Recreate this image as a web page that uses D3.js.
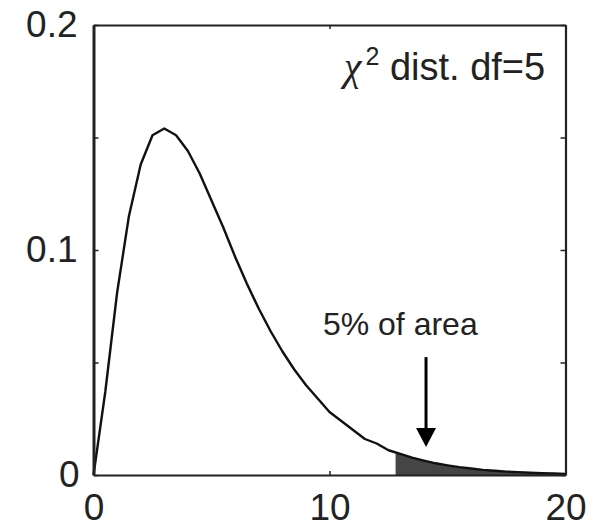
<html>
<head>
<meta charset="utf-8">
<script src="https://d3js.org/d3.v7.min.js"></script>
<style>
  body { margin: 0; background: #fff; }
  text { font-family: "Liberation Sans", Arial, sans-serif; fill: #222; }
</style>
</head>
<body>
<script>
// chi-square df=5 density, every 0.5
var xs = [0, 0.5, 1, 1.5, 2, 2.5, 3, 3.5, 4, 4.5, 5, 5.5, 6, 6.5, 7, 7.5, 8, 8.5, 9, 9.5, 10,
          10.5, 11, 11.5, 12, 12.5, 13, 13.5, 14, 14.5, 15, 15.5, 16, 16.5, 17, 17.5, 18, 18.5, 19, 19.5, 20];
var ys = [0, 0.037, 0.081, 0.115, 0.138, 0.151, 0.154, 0.151, 0.144, 0.134, 0.122, 0.110, 0.097, 0.085,
          0.074, 0.064, 0.055, 0.047, 0.040, 0.034, 0.028, 0.024, 0.020, 0.016, 0.014, 0.011, 0.0094,
          0.0077, 0.0064, 0.0052, 0.0043, 0.0035, 0.0029, 0.0023, 0.0019, 0.0015, 0.0013, 0.0010,
          0.0008, 0.0007, 0.0005];
var shadeFrom = [12.8, 0.0099];   // left edge of shaded tail
var xTicks = [0, 10, 20];
var yTicks = [0, 0.05, 0.1, 0.15, 0.2];
var yLabels = ["0", "", "0.1", "", "0.2"];
var titleText = ["\u03c7", "2", " dist. df=5"];
var noteText = "5% of area";
var arrow = {x: 14.09, from: 0.0524, to: 0.0124};

var W = 598, H = 528;
var svg = d3.select("body").append("svg").attr("width", W).attr("height", H);

var x = d3.scaleLinear().domain([0, 20]).range([93.5, 565.5]);
var y = d3.scaleLinear().domain([0, 0.2]).range([475, 25]);

var pts = xs.map(function(d, i) { return [d, ys[i]]; });

// shaded tail
var tail = [shadeFrom].concat(pts.filter(function(p) { return p[0] > shadeFrom[0]; }));
svg.append("path")
  .datum(tail)
  .attr("fill", "#454545")
  .attr("d", d3.area().x(function(p) { return x(p[0]); }).y0(y(0)).y1(function(p) { return y(p[1]); }));

// curve
svg.append("path")
  .datum(pts)
  .attr("fill", "none")
  .attr("stroke", "#111")
  .attr("stroke-width", 2.4)
  .attr("stroke-linejoin", "round")
  .attr("d", d3.line().x(function(p) { return x(p[0]); }).y(function(p) { return y(p[1]); }));

// axes
var fs = 37;
var gl = svg.append("g").attr("transform", "translate(" + x(0) + ",0)")
  .call(d3.axisLeft(y).tickValues(yTicks).tickSizeInner(-5).tickSizeOuter(0).tickPadding(16)
    .tickFormat(function(d, i) { return yLabels[i]; }));
var gr = svg.append("g").attr("transform", "translate(" + x(20) + ",0)")
  .call(d3.axisRight(y).tickValues(yTicks).tickSizeInner(-5).tickSizeOuter(0).tickFormat(""));
var gb = svg.append("g").attr("transform", "translate(0," + y(0) + ")")
  .call(d3.axisBottom(x).tickValues(xTicks).tickSizeInner(-4).tickSizeOuter(0).tickPadding(19)
    .tickFormat(d3.format("d")));
var gt = svg.append("g").attr("transform", "translate(0," + y(0.2) + ")")
  .call(d3.axisTop(x).tickValues(xTicks).tickSizeInner(-4).tickSizeOuter(0).tickFormat(""));

[gl, gr, gb, gt].forEach(function(g) {
  g.selectAll(".domain").attr("stroke", "#222").attr("stroke-width", 2.2);
  g.selectAll(".tick line").attr("stroke", "#222").attr("stroke-width", 1.5);
  g.selectAll("text").attr("font-size", fs).attr("font-family", null).attr("fill", null);
});
gl.select(".domain").attr("stroke-width", 3);
gl.selectAll(".tick text").filter(function(d) { return d === 0; }).attr("dx", 2);

// title
var t = svg.append("text")
  .attr("x", x(19.14)).attr("y", y(0.1756))
  .attr("text-anchor", "end")
  .attr("font-size", 38);
t.append("tspan").attr("font-size", 40).attr("font-family", "Liberation Serif")
  .attr("font-style", "italic").text(titleText[0]);
t.append("tspan").attr("font-size", 25).attr("dy", -15).attr("dx", 4).text(titleText[1]);
t.append("tspan").attr("dy", 15).text(titleText[2]);

// annotation
svg.append("text")
  .attr("x", x(13.0)).attr("y", y(0.0622))
  .attr("text-anchor", "middle")
  .attr("font-size", 32)
  .text(noteText);

svg.append("line")
  .attr("x1", x(arrow.x)).attr("x2", x(arrow.x))
  .attr("y1", y(arrow.from)).attr("y2", y(arrow.to) - 15)
  .attr("stroke", "#000").attr("stroke-width", 3);
svg.append("path")
  .attr("fill", "#000")
  .attr("d", "M" + (x(arrow.x) - 10) + "," + (y(arrow.to) - 19) +
             "L" + (x(arrow.x) + 10) + "," + (y(arrow.to) - 19) +
             "L" + x(arrow.x) + "," + y(arrow.to) + "Z");
</script>
</body>
</html>
